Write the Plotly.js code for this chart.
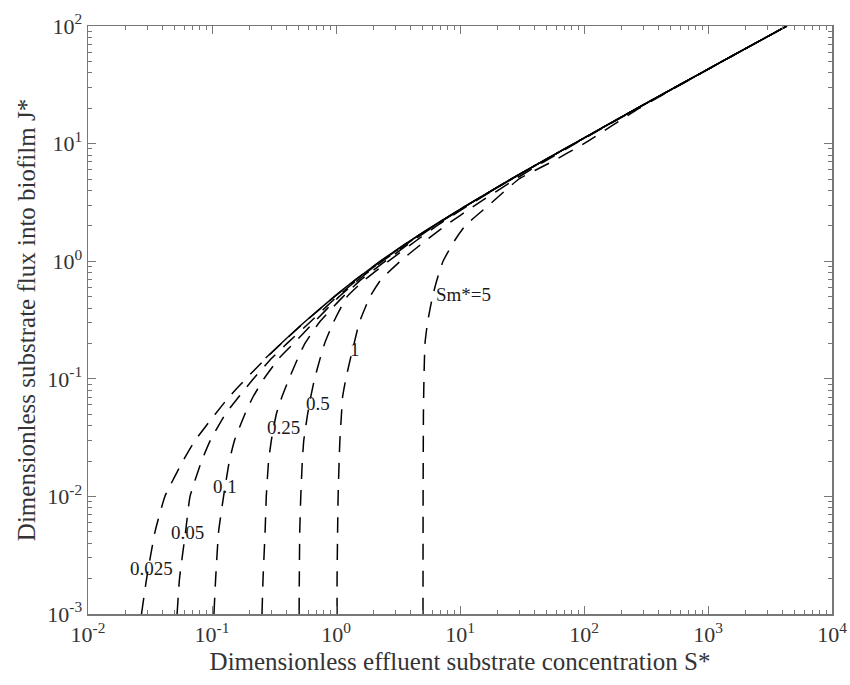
<!DOCTYPE html>
<html>
<head>
<meta charset="utf-8">
<script src="https://cdn.plot.ly/plotly-3.0.1.min.js"></script>
<style>html,body{margin:0;padding:0;background:#fff;}</style>
</head>
<body>
<div id="chart" style="width:850px;height:685px;"></div>
<script>
// Dimensionless flux J* (y) common grid for dashed curves
const J_GRID = [0.001,0.002,0.005,0.01,0.02,0.03,0.05,0.07,0.1,0.15,0.2,0.3,0.5,0.7,1,1.5,2,3,5,7,10,20,50,100];
// Dimensionless effluent substrate concentration S* for each Sm* curve
const S_SM0025 = [0.027,0.0297,0.0347,0.0417,0.0583,0.0732,0.106,0.137,0.1875,0.273,0.363,0.552,0.972,1.452,2.28,3.99,6.10,11.4,25.9,45.4,83.2,269,1300,4325];
const S_SM005  = [0.0523,0.0547,0.0612,0.0665,0.0824,0.097,0.128,0.164,0.216,0.304,0.403,0.61,1.02,1.50,2.32,4.03,6.13,11.42,25.9,45.4,83.2,269,1300,4325];
const S_SM01   = [0.1037,0.107,0.113,0.124,0.138,0.152,0.184,0.214,0.262,0.348,0.455,0.66,1.06,1.53,2.37,4.08,6.17,11.45,25.9,45.4,83.2,269,1300,4325];
const S_SM025  = [0.253,0.258,0.268,0.274,0.286,0.301,0.33,0.366,0.418,0.493,0.562,0.73,1.14,1.6,2.5,4.2,6.25,11.5,26.0,45.5,83.3,269,1300,4325];
const S_SM05   = [0.504,0.506,0.51,0.52,0.535,0.55,0.59,0.625,0.672,0.746,0.81,0.95,1.23,1.72,2.65,4.45,6.5,11.8,26.2,45.6,83.4,269,1300,4325];
const S_SM1    = [1.02,1.02,1.03,1.04,1.06,1.075,1.107,1.13,1.2,1.31,1.4,1.54,1.88,2.31,3.3,5.3,7.6,13.3,28.0,47.5,85,271,1300,4325];
// Sm* = 5 curve
const J_SM5 = [0.001,0.01,0.05,0.1,0.2,0.3,0.5,0.7,1,1.5,2,3,5,7,10,20,50,100];
const S_SM5 = [5.03,5.04,5.07,5.12,5.22,5.47,6.0,6.53,7.3,9.06,11.0,17.1,29.9,55,100,280,1305,4325];
// Solid limiting curve
const J_SOLID = [0.15,0.2,0.3,0.5,0.7,1,1.5,2,3,5,7,10,20,50,100];
const S_SOLID = [0.271,0.361,0.549,0.968,1.447,2.27,3.98,6.09,11.4,25.9,45.4,83.2,269,1300,4325];

const CURVE_LABELS = ['0.025','0.05','0.1','0.25','0.5','1','Sm*=5'];
const X_TICKS = [0.01,0.1,1,10,100,1000,10000];
const X_TICKTEXT = ['10<sup>-2</sup>','10<sup>-1</sup>','10<sup>0</sup>','10<sup>1</sup>','10<sup>2</sup>','10<sup>3</sup>','10<sup>4</sup>'];
const Y_TICKS = [0.001,0.01,0.1,1,10,100];
const Y_TICKTEXT = ['10<sup>-3</sup>','10<sup>-2</sup>','10<sup>-1</sup>','10<sup>0</sup>','10<sup>1</sup>','10<sup>2</sup>'];
const X_TITLE = 'Dimensionless effluent substrate concentration S*';
const Y_TITLE = 'Dimensionless substrate flux into biofilm J*';

const SERIF = 'Liberation Serif, Times New Roman, serif';
const dashStyle = {color:'#000', width:1.5, dash:'16px,11px', shape:'spline', smoothing:0.4};
function dashed(x, y){ return {x:x, y:y, type:'scatter', mode:'lines', line:dashStyle, hoverinfo:'skip', showlegend:false}; }

const traces = [
  dashed(S_SM0025, J_GRID),
  dashed(S_SM005, J_GRID),
  dashed(S_SM01, J_GRID),
  dashed(S_SM025, J_GRID),
  dashed(S_SM05, J_GRID),
  dashed(S_SM1, J_GRID),
  dashed(S_SM5, J_SM5),
  {x:S_SOLID, y:J_SOLID, type:'scatter', mode:'lines', line:{color:'#000', width:1.4, shape:'spline', smoothing:0.4}, hoverinfo:'skip', showlegend:false}
];

// label anchor positions (log10 coords)
const labelPos = [[-1.484,-2.617],[-1.194,-2.311],[-0.895,-1.920],[-0.427,-1.418],[-0.145,-1.206],[0.153,-0.747],[1.032,-0.279]];
const annotations = CURVE_LABELS.map((t,i)=>({
  x: labelPos[i][0], y: labelPos[i][1], xref:'x', yref:'y', text:t, showarrow:false,
  font:{family:SERIF, size:19, color:'#1a1a1a'}
}));

const axisCommon = {
  type:'log', showline:true, linecolor:'#777', linewidth:1.5, mirror:'allticks',
  ticks:'inside', ticklen:8, tickcolor:'#777', tickwidth:1, tickmode:'array',
  showgrid:false, zeroline:false,
  tickfont:{family:SERIF, size:22, color:'#333'},
  minor:{ticks:'inside', ticklen:4, tickcolor:'#777', tickwidth:1, dtick:'D1', showgrid:false}
};

const layout = {
  width:850, height:685,
  margin:{l:88, r:18, t:26, b:71},
  paper_bgcolor:'#fff', plot_bgcolor:'#fff',
  showlegend:false,
  xaxis: Object.assign({}, axisCommon, {range:[-2,4], tickvals:X_TICKS, ticktext:X_TICKTEXT,
    title:{text:X_TITLE, font:{family:SERIF, size:25, color:'#333'}, standoff:6}}),
  yaxis: Object.assign({}, axisCommon, {range:[-3,2], tickvals:Y_TICKS, ticktext:Y_TICKTEXT,
    title:{text:Y_TITLE, font:{family:SERIF, size:25, color:'#333'}, standoff:4}}),
  annotations: annotations
};

Plotly.newPlot('chart', traces, layout, {staticPlot:true, displayModeBar:false});
</script>
</body>
</html>
